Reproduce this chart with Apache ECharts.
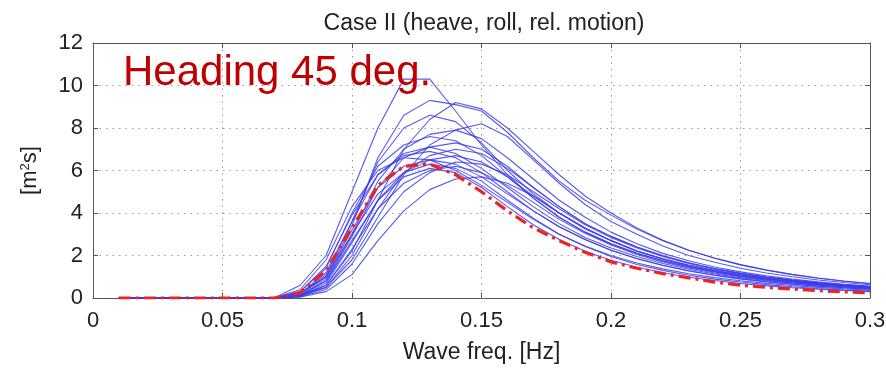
<!DOCTYPE html>
<html>
<head>
<meta charset="utf-8">
<script src="https://cdn.jsdelivr.net/npm/echarts@6/dist/echarts.min.js"></script>
<style>
html,body{margin:0;padding:0;background:#fff;}
#chart{width:886px;height:368px;}
</style>
</head>
<body>
<div id="chart"></div>
<script>
// Frequencies [Hz]
var freqs = [0.01,0.02,0.03,0.04,0.05,0.06,0.07,0.08,0.09,0.10,0.11,0.12,0.13,0.14,0.15,0.16,0.17,0.18,0.19,0.20,0.21,0.22,0.23,0.24,0.25,0.26,0.27,0.28,0.29,0.30];
var xTicks = [0,0.05,0.1,0.15,0.2,0.25,0.3];
var yTicks = [0,2,4,6,8,10,12];
var zeros = [0,0,0,0,0,0,0];

// Blue: individual spectra (values from 0.08 Hz onward)
var blue01 = [0.6,2.0,5.0,8.0,10.3,10.3,8.8,7.2,5.8,4.7,3.8,3.1,2.55,2.1,1.75,1.45,1.22,1.03,0.88,0.75,0.64,0.55,0.47];
var blue02 = [0.2,1.0,3.4,6.6,8.6,9.3,9.1,8.8,7.8,6.6,5.5,4.6,3.9,3.25,2.7,2.25,1.88,1.57,1.32,1.11,0.94,0.8,0.68];
var blue03 = [0.1,0.6,2.2,4.6,7.0,8.4,9.2,8.9,8.0,6.9,5.8,4.8,4.0,3.3,2.72,2.25,1.87,1.56,1.31,1.1,0.93,0.79,0.68];
var blue04 = [0.2,1.1,3.6,6.4,8.0,8.6,8.3,7.3,6.0,4.9,4.0,3.3,2.7,2.2,1.85,1.55,1.3,1.1,0.93,0.8,0.68,0.58,0.5];
var blue05 = [0.1,0.5,1.8,3.8,5.8,7.2,7.9,8.2,7.6,6.5,5.4,4.4,3.6,3.0,2.45,2.0,1.68,1.4,1.18,1.0,0.85,0.73,0.62];
var blue06 = [0.3,1.4,4.0,6.2,7.2,7.6,7.4,6.7,5.7,4.7,3.8,3.1,2.55,2.1,1.75,1.47,1.24,1.05,0.9,0.77,0.66,0.57,0.49];
var blue07 = [0.1,0.8,2.9,5.2,6.6,7.1,7.3,7.0,6.2,5.2,4.3,3.5,2.9,2.4,1.98,1.65,1.38,1.16,0.98,0.83,0.71,0.61,0.52];
var blue08 = [0.2,1.2,3.6,5.8,6.8,7.1,6.8,6.1,5.2,4.3,3.5,2.85,2.35,1.95,1.62,1.35,1.13,0.96,0.82,0.7,0.6,0.52,0.45];
var blue09 = [0.1,0.5,2.0,4.2,5.9,6.7,7.0,6.8,6.1,5.2,4.3,3.5,2.9,2.4,2.0,1.66,1.39,1.17,0.99,0.85,0.72,0.62,0.54];
var blue10 = [0.3,1.5,3.9,5.8,6.7,6.9,6.6,5.9,5.0,4.1,3.35,2.75,2.25,1.85,1.53,1.27,1.07,0.9,0.77,0.65,0.56,0.48,0.41];
var blue11 = [0.1,0.7,2.6,4.6,5.9,6.5,6.7,6.4,5.7,4.8,4.0,3.25,2.7,2.22,1.84,1.53,1.28,1.08,0.92,0.78,0.67,0.57,0.49];
var blue12 = [0.2,1.0,3.2,5.2,6.2,6.5,6.3,5.7,4.9,4.1,3.35,2.75,2.25,1.86,1.54,1.28,1.07,0.9,0.77,0.65,0.56,0.48,0.41];
var blue13 = [0.05,0.4,1.6,3.5,5.0,5.9,6.4,6.3,5.8,5.0,4.2,3.45,2.85,2.35,1.95,1.62,1.35,1.14,0.97,0.83,0.71,0.61,0.52];
var blue14 = [0.1,0.6,2.3,4.2,5.4,6.0,6.2,5.9,5.3,4.5,3.7,3.05,2.5,2.05,1.7,1.41,1.18,1.0,0.85,0.72,0.62,0.53,0.45];
var blue15 = [0.05,0.3,1.1,2.7,4.1,5.1,5.6,5.7,5.4,4.8,4.0,3.3,2.7,2.2,1.82,1.5,1.25,1.05,0.89,0.76,0.65,0.56,0.48];
var blue16 = [0.4,1.8,4.3,6.0,6.6,6.5,6.0,5.3,4.5,3.7,3.0,2.45,2.0,1.65,1.37,1.14,0.96,0.81,0.69,0.59,0.5,0.43,0.37];
var blue17 = [0.1,0.9,3.0,5.5,7.0,7.7,7.9,7.5,6.6,5.6,4.6,3.8,3.1,2.55,2.1,1.75,1.46,1.23,1.04,0.89,0.76,0.65,0.56];
var blue18 = [0.2,1.0,3.0,4.9,5.9,6.3,6.1,5.5,4.6,3.75,3.0,2.42,1.95,1.58,1.3,1.07,0.89,0.75,0.63,0.53,0.45,0.38,0.32];
var blue19 = [0.15,0.8,2.7,4.6,5.7,6.1,5.9,5.2,4.3,3.45,2.75,2.2,1.78,1.45,1.19,0.98,0.82,0.68,0.57,0.48,0.41,0.35,0.3];

// Red: reference spectrum (values from 0.08 Hz onward)
var redRef = [0.25,1.3,3.3,5.3,6.2,6.3,5.8,5.0,4.1,3.3,2.7,2.15,1.7,1.4,1.15,0.95,0.75,0.6,0.5,0.42,0.35,0.29,0.24];

var blueSets = [blue01,blue02,blue03,blue04,blue05,blue06,blue07,blue08,blue09,blue10,blue11,blue12,blue13,blue14,blue15,blue16,blue17,blue18,blue19];

function pairs(vals){
  var full = zeros.concat(vals);
  return freqs.map(function(f,i){ return [f, full[i]]; });
}

var FONT = 'Liberation Sans';
var series = blueSets.map(function(v){
  return {type:'line', data:pairs(v), symbol:'none', silent:true,
    lineStyle:{color:'rgba(60,60,235,0.85)', width:1.1}};
});
series.push({type:'line', data:pairs(redRef), symbol:'none', silent:true, z:5,
  lineStyle:{color:'#ee2222', width:3.2, type:[12,5,3,5]}});

var chart = echarts.init(document.getElementById('chart'));
var axisCommon = {
  min:0,
  axisLine:{show:true, onZero:false, lineStyle:{color:'#555', width:1}},
  axisTick:{show:true, inside:true, length:5, lineStyle:{color:'#555'}},
  splitLine:{show:false}
};
chart.setOption({
  animation:false,
  backgroundColor:'#fff',
  title:{text:'Case II (heave, roll, rel. motion)', left:479, top:7, textAlign:'center',
    textStyle:{fontFamily:FONT, fontSize:23, fontWeight:'normal', color:'#222'}},
  grid:{left:93, right:16, top:43, bottom:70, show:false, containLabel:false, outerBoundsMode:'none'},
  xAxis:[
    Object.assign({}, axisCommon, {type:'value', max:0.3, interval:0.05, position:'bottom',
      name:'Wave freq. [Hz]', nameLocation:'middle', nameGap:43,
      nameTextStyle:{fontFamily:FONT, fontSize:23, color:'#222'},
      axisLabel:{fontFamily:FONT, fontSize:22, color:'#222', margin:12,
        formatter:function(v){ var t = xTicks.filter(function(x){return Math.abs(x-v)<1e-9;}); return t.length? String(t[0]) : ''; }},
      splitLine:{show:true, lineStyle:{color:'#999', width:1, type:[1.5,5]}}}),
    Object.assign({}, axisCommon, {type:'value', max:0.3, interval:0.05, position:'top',
      axisLabel:{show:false}})
  ],
  yAxis:[
    Object.assign({}, axisCommon, {type:'value', max:12, interval:2, position:'left',
      name:'[m{sup|2}s]', nameLocation:'middle', nameGap:52, nameRotate:90,
      nameTextStyle:{fontFamily:FONT, fontSize:22, color:'#222',
        rich:{sup:{fontFamily:FONT, fontSize:13, color:'#222', verticalAlign:'top', padding:[0,0,9,0]}}},
      axisLabel:{fontFamily:FONT, fontSize:22, color:'#222', margin:10,
        formatter:function(v){ return yTicks.indexOf(v)>=0 ? String(v) : ''; }},
      splitLine:{show:true, lineStyle:{color:'#999', width:1, type:[1.5,5]}}}),
    Object.assign({}, axisCommon, {type:'value', max:12, interval:2, position:'right',
      axisLabel:{show:false}})
  ],
  graphic:[{type:'text', left:123, top:52, z:100, silent:true,
    style:{text:'Heading 45 deg.', fontFamily:FONT, fontSize:42, fill:'#c00000'}}],
  series: series
});
</script>
</body>
</html>
